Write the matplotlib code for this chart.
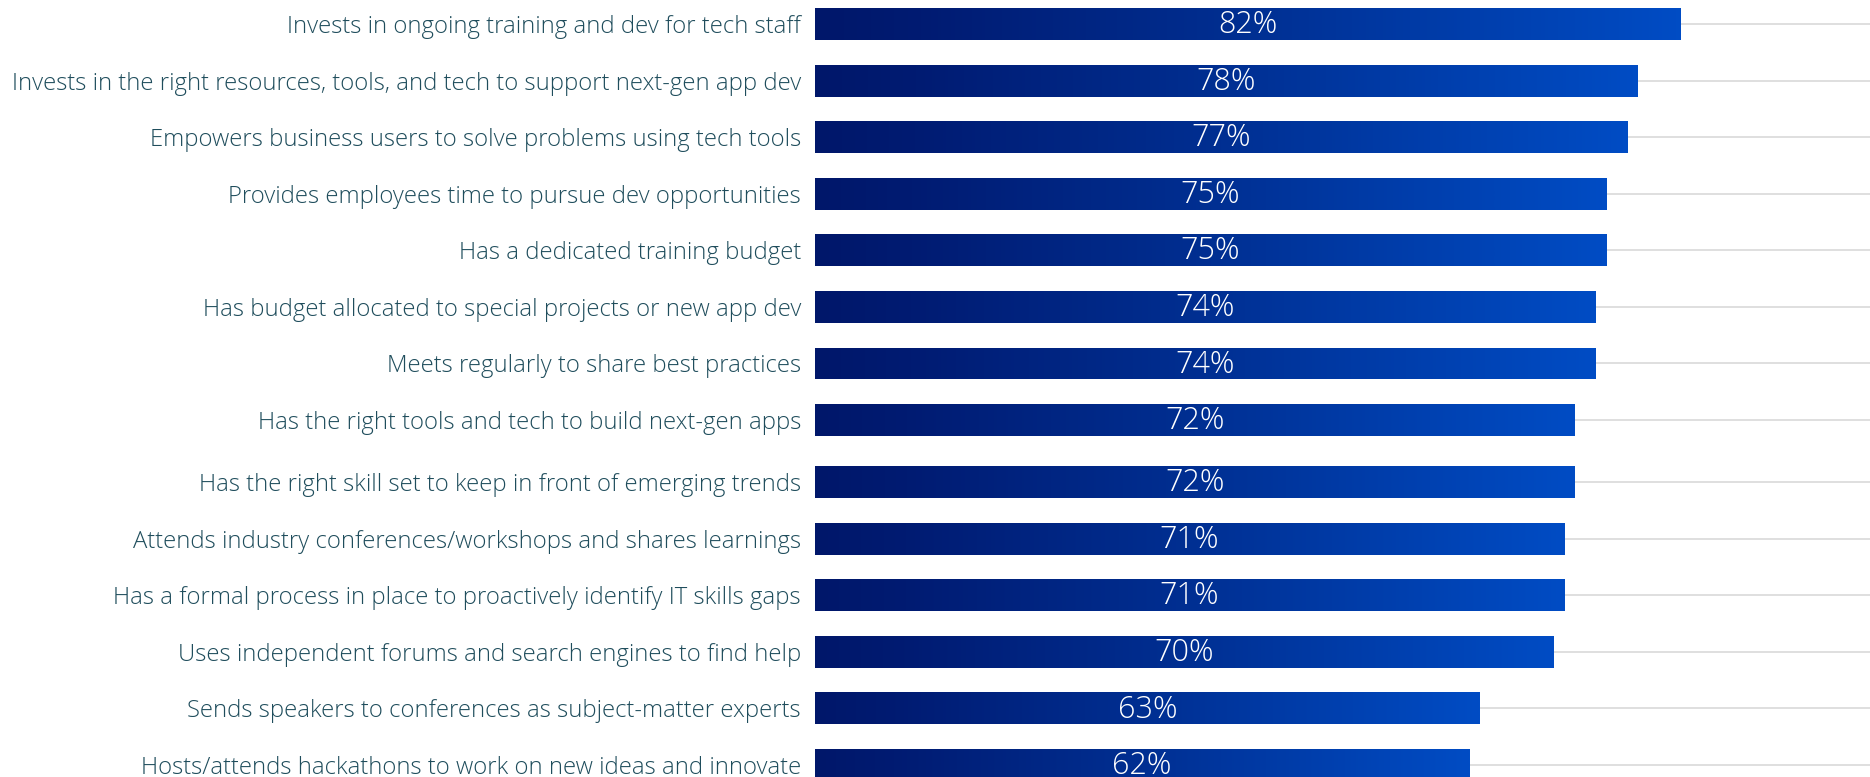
import numpy as np
import matplotlib
matplotlib.use("Agg")
import matplotlib.pyplot as plt
from matplotlib.colors import LinearSegmentedColormap

categories = [
    "Invests in ongoing training and dev for tech staff",
    "Invests in the right resources, tools, and tech to support next-gen app dev",
    "Empowers business users to solve problems using tech tools",
    "Provides employees time to pursue dev opportunities",
    "Has a dedicated training budget",
    "Has budget allocated to special projects or new app dev",
    "Meets regularly to share best practices",
    "Has the right tools and tech to build next-gen apps",
    "Has the right skill set to keep in front of emerging trends",
    "Attends industry conferences/workshops and shares learnings",
    "Has a formal process in place to proactively identify IT skills gaps",
    "Uses independent forums and search engines to find help",
    "Sends speakers to conferences as subject-matter experts",
    "Hosts/attends hackathons to work on new ideas and innovate",
]
values = [82, 78, 77, 75, 75, 74, 74, 72, 72, 71, 71, 70, 63, 62]
value_labels = [f"{v}%" for v in values]

W, H, DPI = 1870, 777, 100
fig = plt.figure(figsize=(W / DPI, H / DPI), dpi=DPI)
ax = fig.add_axes([815 / W, 0, 1 - 815 / W, 1])

n = len(categories)
idx = np.arange(n)
ypos = idx + np.where(idx >= 8, 0.096, 0.0)
bar_h = 0.565

cmap = LinearSegmentedColormap.from_list(
    "grad", [(0.0, "#00176a"), (0.12, "#001b72"), (0.5, "#002f92"), (1.0, "#004cc4")]
)
grad = np.linspace(0, 1, 256).reshape(1, -1)

bars = ax.barh(ypos, values, height=bar_h, color="#002a8a", zorder=2)
for b in bars:
    x0, y0 = b.get_x(), b.get_y()
    w, h = b.get_width(), b.get_height()
    im = ax.imshow(grad, cmap=cmap, aspect="auto", extent=(x0, x0 + w, y0 + h, y0),
                   zorder=3, interpolation="bilinear")
    im.set_clip_path(b)

for y, v, lab in zip(ypos, values, value_labels):
    ax.text(v / 2, y + 0.02, lab, ha="center", va="center", color="white",
            fontsize=22, fontfamily="Open Sans", fontweight="light", zorder=5)

ax.set_xlim(0, 100)
ax.set_ylim(ypos[-1] + 0.212, -0.424)
ax.set_yticks(ypos)
ax.set_yticklabels(categories, fontsize=17.2, color="#1f4d5c",
                   fontfamily="Open Sans", fontweight="light")
ax.tick_params(axis="y", length=0, pad=10)
ax.tick_params(axis="x", bottom=False, labelbottom=False)
ax.yaxis.grid(True, color="#dcdcdc", linewidth=1.3, zorder=0)
ax.set_axisbelow(True)
for s in ax.spines.values():
    s.set_visible(False)

fig.savefig("out.png", dpi=DPI)
